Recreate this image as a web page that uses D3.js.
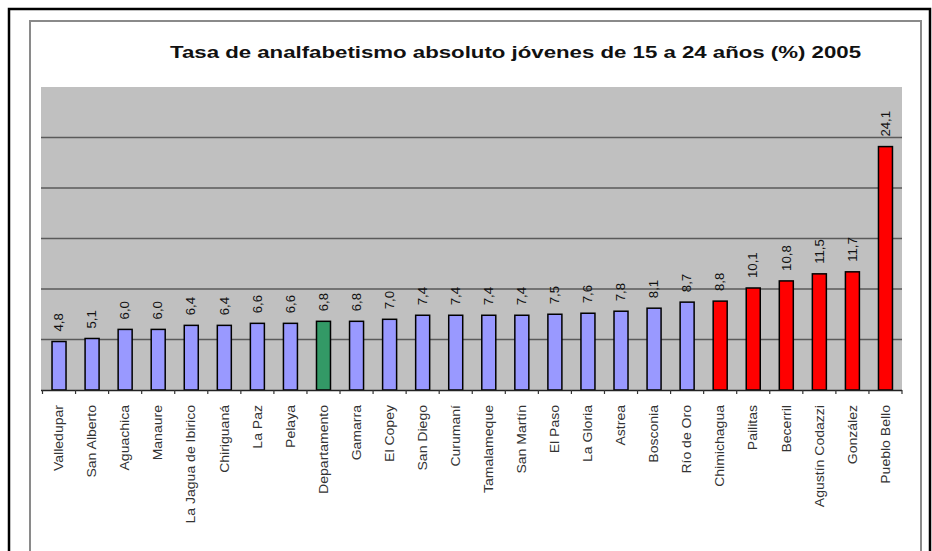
<!DOCTYPE html>
<html>
<head>
<meta charset="utf-8">
<script src="https://cdn.jsdelivr.net/npm/d3@7"></script>
<style>
  body { margin: 0; padding: 0; background: #fff; }
  svg { display: block; font-family: "Liberation Sans", Arial, sans-serif; }
</style>
</head>
<body>
<svg id="chart" width="932" height="551"></svg>
<script>
// data
const municipios = ["Valledupar", "San Alberto", "Aguachica", "Manaure", "La Jagua de Ibirico",
    "Chiriguaná", "La Paz", "Pelaya", "Departamento", "Gamarra", "El Copey", "San Diego",
    "Curumaní", "Tamalameque", "San Martín", "El Paso", "La Gloria", "Astrea", "Bosconia",
    "Río de Oro", "Chimichagua", "Pailitas", "Becerril", "Agustín Codazzi", "González", "Pueblo Bello"];
const tasas = [4.8, 5.1, 6.0, 6.0, 6.4, 6.4, 6.6, 6.6, 6.8, 6.8, 7.0, 7.4, 7.4, 7.4, 7.4,
    7.5, 7.6, 7.8, 8.1, 8.7, 8.8, 10.1, 10.8, 11.5, 11.7, 24.1];
// "b" = below/around average, "d" = departamento, "a" = above
const grupos = ["b", "b", "b", "b", "b", "b", "b", "b", "d", "b", "b", "b", "b", "b", "b",
    "b", "b", "b", "b", "b", "a", "a", "a", "a", "a", "a"];
const yTicks = [5, 10, 15, 20, 25];
const titulo = "Tasa de analfabetismo absoluto jóvenes de 15 a 24 años (%) 2005";

const colores = { b: "#9999ff", d: "#339966", a: "#ff0000" };
const stretch = 1.17;

const svg = d3.select("#chart");
const plot = { left: 41, right: 902, top: 87, bottom: 390 };

// outer frames
svg.append("rect")
    .attr("x", 9).attr("y", 9).attr("width", 921).attr("height", 560)
    .attr("fill", "none").attr("stroke", "#000").attr("stroke-width", 2.5);
svg.append("rect")
    .attr("x", 30).attr("y", 21).attr("width", 891).attr("height", 560)
    .attr("fill", "#fff").attr("stroke", "#8a8a8a").attr("stroke-width", 2);

svg.append("text")
    .attr("x", 170).attr("y", 58)
    .attr("textLength", 691).attr("lengthAdjust", "spacingAndGlyphs")
    .style("font-size", "16px").style("font-weight", "bold").style("fill", "#111")
    .text(titulo);

const x = d3.scaleBand()
    .domain(municipios)
    .range([plot.left + 1.5, plot.right])
    .paddingInner(0).paddingOuter(0);
const y = d3.scaleLinear().domain([0, 30]).range([plot.bottom, plot.top]);

svg.append("rect")
    .attr("x", plot.left).attr("y", plot.top)
    .attr("width", plot.right - plot.left).attr("height", plot.bottom - plot.top)
    .attr("fill", "#c0c0c0");

svg.append("g")
    .selectAll("line")
    .data(yTicks)
    .enter()
    .append("line")
    .attr("x1", plot.left).attr("x2", plot.right)
    .attr("y1", d => y(d)).attr("y2", d => y(d))
    .attr("stroke", "#5a5a5a").attr("stroke-width", 1.5);

const barW = 14;
svg.append("g")
    .selectAll("rect")
    .data(tasas)
    .enter()
    .append("rect")
    .attr("x", (d, i) => x(municipios[i]) + x.bandwidth() / 2 - barW / 2)
    .attr("y", d => y(d))
    .attr("width", barW)
    .attr("height", d => plot.bottom - y(d))
    .attr("fill", (d, i) => colores[grupos[i]])
    .attr("stroke", "#000").attr("stroke-width", 1.5);

// x axis
const xAxis = d3.axisBottom(x).tickSize(0).tickFormat("");
svg.append("g")
    .attr("transform", `translate(0,${plot.bottom})`)
    .call(xAxis)
    .call(g => g.select(".domain").attr("stroke", "#222").attr("stroke-width", 1.5)
        .attr("d", `M${plot.left},0.5H${plot.right}`));
svg.append("g")
    .selectAll("line")
    .data(municipios.concat(["_end"]))
    .enter()
    .append("line")
    .attr("x1", (d, i) => i < municipios.length ? x(d) : plot.right)
    .attr("x2", (d, i) => i < municipios.length ? x(d) : plot.right)
    .attr("y1", plot.bottom).attr("y2", plot.bottom + 4)
    .attr("stroke", "#333").attr("stroke-width", 1.2);

// category labels
svg.append("g")
    .selectAll("text")
    .data(municipios)
    .enter()
    .append("text")
    .attr("transform", d => `translate(${x(d) + x.bandwidth() / 2},405) rotate(-90) scale(${stretch},1)`)
    .attr("dy", "0.35em")
    .attr("text-anchor", "end")
    .style("font-size", "12px").style("fill", "#333")
    .text(d => d);

// value labels
svg.append("g")
    .selectAll("text")
    .data(tasas)
    .enter()
    .append("text")
    .attr("transform", (d, i) => `translate(${x(municipios[i]) + x.bandwidth() / 2},${y(d) - 10}) rotate(-90) scale(1.1,1)`)
    .attr("dy", "0.35em")
    .attr("text-anchor", "start")
    .style("font-size", "12px").style("fill", "#111")
    .text(d => d.toFixed(1).replace(".", ","));
</script>
</body>
</html>
